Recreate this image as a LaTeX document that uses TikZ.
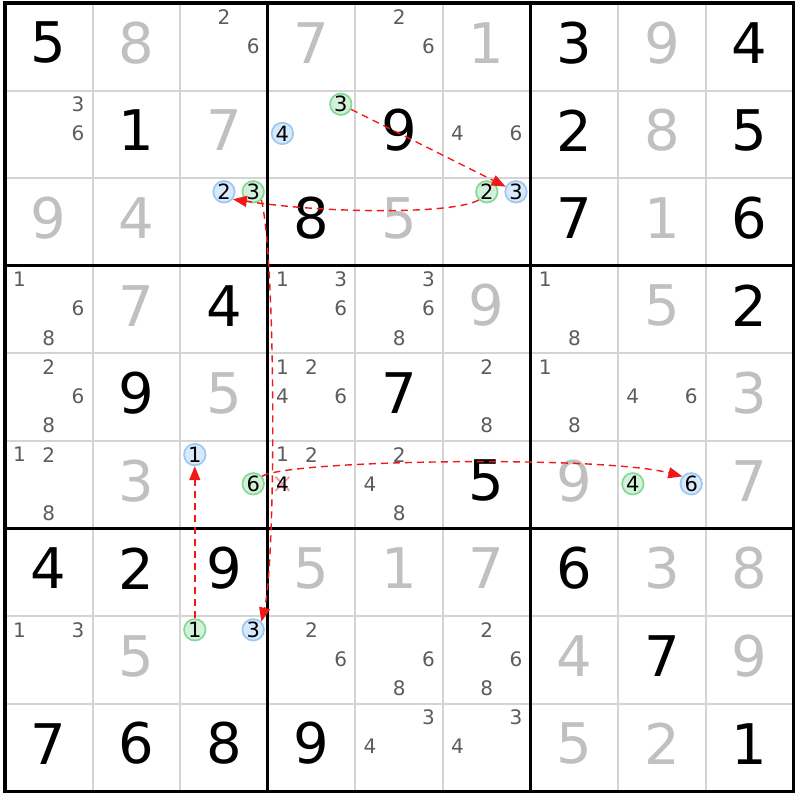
\documentclass[tikz,border=0pt]{standalone}
\usepackage{fontspec}
\setmainfont{DejaVu Sans}
\usetikzlibrary{arrows.meta}
\definecolor{gridgray}{HTML}{D4D4D4}
\definecolor{givengray}{HTML}{C0C0C0}
\definecolor{candgray}{HTML}{5C5C5C}
\definecolor{blueline}{HTML}{9CC8F4}
\definecolor{bluefill}{HTML}{D8E9FB}
\definecolor{greenline}{HTML}{86D896}
\definecolor{greenfill}{HTML}{D3F1DA}
\definecolor{arrred}{HTML}{F01818}
\definecolor{xpink}{HTML}{F4A4AC}
\newcommand\sdkB[3]{\node[bigk] (n#1#2) at ({5+(#2-0.5)*87.6},{3+(#1-0.5)*87.6-4}) {#3};}
\newcommand\sdkG[3]{\node[bigg] (n#1#2) at ({5+(#2-0.5)*87.6},{3+(#1-0.5)*87.6-4}) {#3};}
\newcommand\sdkC[3]{\foreach \d in {#3}{%
  \pgfmathsetmacro\sdkdx{mod(\d-1,3)-1}%
  \pgfmathsetmacro\sdkdy{int((\d-1)/3)-1}%
  \node[cand] (c#1#2\d) at ({5+(#2-0.5)*87.6+\sdkdx*29.2},{3+(#1-0.5)*87.6+\sdkdy*29.2-1}) {\d};}}
\newcommand\sdkO[4]{%
  \pgfmathsetmacro\sdkdx{mod(#3-1,3)-1}%
  \pgfmathsetmacro\sdkdy{int((#3-1)/3)-1}%
  \node[#4] (c#1#2#3) at ({5+(#2-0.5)*87.6+\sdkdx*29.2},{3+(#1-0.5)*87.6+\sdkdy*29.2-1}) {#3};}
\begin{document}
\begin{tikzpicture}[x=1pt,y=-1pt,
  bigk/.style={inner sep=0pt,font=\fontsize{56}{60}\selectfont,text=black},
  bigg/.style={bigk,text=givengray},
  cand/.style={inner sep=0pt,font=\fontsize{20}{22}\selectfont,text=candgray},
  circ/.style={circle,inner sep=0pt,minimum size=21.5pt,line width=1.7pt,font=\fontsize{21}{22}\selectfont,text=black},
  bluec/.style={circ,draw=blueline,fill=bluefill},
  greenc/.style={circ,draw=greenline,fill=greenfill},
  arr/.style={draw=arrred,line width=1.4pt,dash pattern=on 7pt off 5pt,-{Triangle[length=14pt,width=11pt]}},
  thinline/.style={draw=gridgray,line width=2pt},
  thickline/.style={draw=black,line width=3pt},
]
\useasboundingbox (0,0) rectangle (800,800);
\fill[white] (0,0) rectangle (800,800);
% grid
\foreach \i in {1,2,4,5,7,8}{
  \draw[thinline] ({5+\i*87.6},3) -- ({5+\i*87.6},{3+9*87.6});
  \draw[thinline] (5,{3+\i*87.6}) -- ({5+9*87.6},{3+\i*87.6});
}
\foreach \i in {3,6}{
  \draw[thickline] ({5+\i*87.6},3) -- ({5+\i*87.6},{3+9*87.6});
  \draw[thickline] (5,{3+\i*87.6}) -- ({5+9*87.6},{3+\i*87.6});
}
\draw[thickline,line width=3.5pt] (5,3) rectangle ({5+9*87.6},{3+9*87.6});
% row 1
\sdkB{1}{1}{5}\sdkG{1}{2}{8}\sdkC{1}{3}{2,6}\sdkG{1}{4}{7}\sdkC{1}{5}{2,6}\sdkG{1}{6}{1}\sdkB{1}{7}{3}\sdkG{1}{8}{9}\sdkB{1}{9}{4}
% row 2
\sdkC{2}{1}{3,6}\sdkB{2}{2}{1}\sdkG{2}{3}{7}\sdkO{2}{4}{3}{greenc}\sdkO{2}{4}{4}{bluec}\sdkB{2}{5}{9}\sdkC{2}{6}{4,6}\sdkB{2}{7}{2}\sdkG{2}{8}{8}\sdkB{2}{9}{5}
% row 3
\sdkG{3}{1}{9}\sdkG{3}{2}{4}\sdkO{3}{3}{2}{bluec}\sdkO{3}{3}{3}{greenc}\sdkB{3}{4}{8}\sdkG{3}{5}{5}\sdkO{3}{6}{2}{greenc}\sdkO{3}{6}{3}{bluec}\sdkB{3}{7}{7}\sdkG{3}{8}{1}\sdkB{3}{9}{6}
% row 4
\sdkC{4}{1}{1,6,8}\sdkG{4}{2}{7}\sdkB{4}{3}{4}\sdkC{4}{4}{1,3,6}\sdkC{4}{5}{3,6,8}\sdkG{4}{6}{9}\sdkC{4}{7}{1,8}\sdkG{4}{8}{5}\sdkB{4}{9}{2}
% row 5
\sdkC{5}{1}{2,6,8}\sdkB{5}{2}{9}\sdkG{5}{3}{5}\sdkC{5}{4}{1,2,4,6}\sdkB{5}{5}{7}\sdkC{5}{6}{2,8}\sdkC{5}{7}{1,8}\sdkC{5}{8}{4,6}\sdkG{5}{9}{3}
% row 6
\sdkC{6}{1}{1,2,8}\sdkG{6}{2}{3}\sdkO{6}{3}{1}{bluec}\sdkO{6}{3}{6}{greenc}\sdkC{6}{4}{1,2}
\coordinate (x644) at ({5+3.5*87.6-29.2},{3+5.5*87.6-1});
\draw[xpink,line width=2pt] (x644) ++(-7,-7) -- ++(14,14);
\draw[xpink,line width=2pt] (x644) ++(7,-7) -- ++(-14,14);
\node[cand,text=black] (c644) at (x644) {4};
\sdkC{6}{5}{2,4,8}\sdkB{6}{6}{5}\sdkG{6}{7}{9}\sdkO{6}{8}{4}{greenc}\sdkO{6}{8}{6}{bluec}\sdkG{6}{9}{7}
% row 7
\sdkB{7}{1}{4}\sdkB{7}{2}{2}\sdkB{7}{3}{9}\sdkG{7}{4}{5}\sdkG{7}{5}{1}\sdkG{7}{6}{7}\sdkB{7}{7}{6}\sdkG{7}{8}{3}\sdkG{7}{9}{8}
% row 8
\sdkC{8}{1}{1,3}\sdkG{8}{2}{5}\sdkO{8}{3}{1}{greenc}\sdkO{8}{3}{3}{bluec}\sdkC{8}{4}{2,6}\sdkC{8}{5}{6,8}\sdkC{8}{6}{2,6,8}\sdkG{8}{7}{4}\sdkB{8}{8}{7}\sdkG{8}{9}{9}
% row 9
\sdkB{9}{1}{7}\sdkB{9}{2}{6}\sdkB{9}{3}{8}\sdkB{9}{4}{9}\sdkC{9}{5}{3,4}\sdkC{9}{6}{3,4}\sdkG{9}{7}{5}\sdkG{9}{8}{2}\sdkB{9}{9}{1}
% chain arrows
\draw[arr] (c243) -- (c363);
\draw[arr] (c362.225) .. controls (455,214) and (330,214) .. (c332.-40);
\draw[arr] (c333.-45) .. controls (276,260) and (276,560) .. (c833.45);
\draw[arr] (c636.40) .. controls (285,460) and (600,455) .. (c686.140);
\draw[arr] (c831) -- (c631);
\end{tikzpicture}
\end{document}
